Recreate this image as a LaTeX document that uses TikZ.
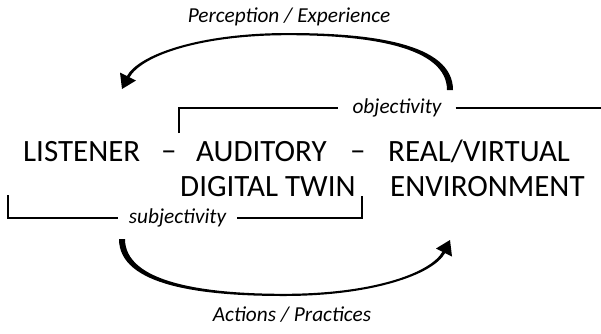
\documentclass[tikz,border=0pt]{standalone}
\usepackage{fontspec}
\setmainfont{Carlito}
\newcommand\loopArrow{%
  \fill (453,90) .. controls (453,43) and (370,33) .. (288,33)
        .. controls (200,33) and (138.7,54.3) .. (126.7,76.3)
        -- (129.3,77.7) .. controls (141.3,55.7) and (200,35.2) .. (288,35.2)
        .. controls (370,35.2) and (447,47) .. (447,90) -- cycle;
  \fill (122,89) -- (136,80.5) -- (120,72.5) -- cycle;
}
\begin{document}
\begin{tikzpicture}[x=1pt,y=-1pt,
  main/.style={font=\fontsize{31}{37}\selectfont, inner sep=0pt, anchor=base west},
  lbl/.style={font=\fontsize{21.3}{25}\selectfont\itshape, inner sep=0pt, anchor=base},
  brk/.style={line width=1.6pt}]
\useasboundingbox (0,0) rectangle (601,333);

% main text
\node[main] (listener) at (23,161) {LISTENER};
\node[main] (dashA) at (161,160.5) {–};
\node[main] (auditory) at (196,161) {AUDITORY};
\node[main] (dashB) at (350,160.5) {–};
\node[main] (real) at (388,161) {REAL/VIRTUAL};
\node[main] (digital) at (180,196) {DIGITAL TWIN};
\node[main] (environment) at (390,196) {ENVIRONMENT};

% labels
\node[lbl] (perception) at (289,22) {Perception / Experience};
\node[lbl] (actions) at (292,321) {Actions / Practices};
\node[lbl] (obj) at (397,113) {objectivity};
\node[lbl] (subj) at (177.5,223) {subjectivity};

% objectivity bracket
\coordinate (objA) at (179,133);
\coordinate (objB) at (601,108);
\draw[brk] (objA) |- ([xshift=-14pt]obj.west |- objB);
\draw[brk] ([xshift=14pt]obj.east |- objB) -- (objB);

% subjectivity bracket
\coordinate (subA) at (8,195);
\coordinate (subB) at (362,196);
\coordinate (subY) at (0,218);
\draw[brk] (subA) |- ([xshift=-11pt]subj.west |- subY);
\draw[brk] ([xshift=11pt]subj.east |- subY) -| (subB);

% curved arrows
\loopArrow
\begin{scope}[rotate around={180:(286,164.5)}]
  \loopArrow
\end{scope}
\end{tikzpicture}
\end{document}
